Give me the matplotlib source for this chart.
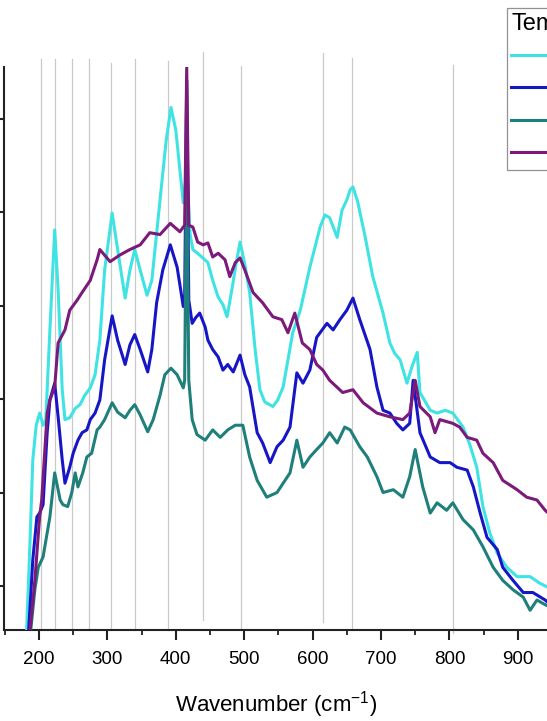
import matplotlib
matplotlib.use("Agg")
import matplotlib.pyplot as plt
from matplotlib.ticker import MultipleLocator


# -----------------------------
# Datos
# -----------------------------

wn_cyan = [182, 187, 191, 196, 201, 206, 210, 216, 223, 228, 234, 238, 245, 253, 260, 267,
           275, 282, 289, 296, 307, 315, 326, 333, 340, 348, 358, 365, 377, 386, 393, 400,
           411, 416, 421, 425, 435, 447, 454, 462, 469, 475, 482, 488, 494, 501, 508, 516,
           523, 530, 542, 549, 557, 564, 571, 582, 596, 611, 618, 625, 636, 643, 650, 655,
           659, 666, 677, 688, 703, 713, 720, 728, 738, 745, 753, 757, 772, 782, 794, 805,
           820, 830, 840, 849, 859, 870, 884, 899, 918, 932, 943]
int_cyan = [530, 1490, 2350, 2720, 2850, 2720, 2780, 3740, 4810, 4170, 3100, 2780, 2800, 2900, 2940, 3040,
            3120, 3260, 3630, 4380, 4990, 4600, 4080, 4380, 4600, 4380, 4110, 4270, 5130, 5770, 6120, 5880,
            5100, 5450, 4760, 4600, 4540, 4460, 4270, 4090, 4010, 3880, 4170, 4440, 4680, 4440, 4140, 3530,
            3100, 2970, 2920, 2990, 3130, 3420, 3710, 3950, 4410, 4840, 4970, 4940, 4730, 5020, 5130, 5240,
            5270, 5110, 4730, 4310, 3920, 3600, 3490, 3420, 3170, 3340, 3500, 3070, 2880, 2850, 2880, 2850,
            2700, 2510, 2270, 1850, 1570, 1350, 1200, 1100, 1100, 1030, 990]

wn_blue = [185, 191, 197, 201, 206, 212, 216, 223, 228, 234, 238, 245, 250, 257, 263, 270,
           275, 282, 289, 296, 307, 315, 326, 333, 340, 348, 359, 365, 372, 381, 392, 402,
           411, 413, 416, 419, 424, 429, 435, 443, 447, 454, 462, 469, 476, 484, 494, 501,
           508, 519, 527, 538, 548, 557, 567, 577, 586, 596, 606, 621, 630, 640, 650, 659,
           669, 684, 694, 703, 713, 723, 732, 742, 747, 757, 772, 786, 801, 811, 826, 835,
           845, 855, 870, 878, 893, 908, 922, 940, 943]
int_blue = [530, 1280, 1740, 1780, 1870, 2640, 2990, 3170, 2810, 2350, 2100, 2270, 2420, 2560, 2640, 2670,
            2780, 2850, 2990, 3420, 3890, 3630, 3370, 3580, 3690, 3530, 3290, 3530, 4030, 4380, 4650, 4410,
            3990, 4060, 6410, 4060, 3810, 3870, 3920, 3770, 3630, 3530, 3450, 3310, 3370, 3290, 3470, 3260,
            3130, 2640, 2530, 2320, 2490, 2560, 2700, 3280, 3170, 3310, 3660, 3810, 3740, 3850, 3950, 4080,
            3850, 3530, 3130, 2880, 2850, 2740, 2670, 2740, 3200, 2640, 2380, 2320, 2320, 2270, 2240, 2060,
            1780, 1520, 1390, 1200, 1060, 930, 930, 850, 830]

wn_teal = [188, 194, 199, 206, 216, 223, 231, 235, 242, 248, 253, 257, 264, 270, 277, 285,
           289, 296, 307, 315, 326, 333, 340, 348, 359, 367, 377, 384, 393, 402, 411, 413,
           416, 419, 424, 431, 443, 454, 465, 476, 487, 498, 508, 519, 533, 548, 557, 567,
           577, 586, 596, 606, 615, 625, 636, 647, 655, 669, 680, 694, 703, 718, 732, 742,
           750, 761, 772, 782, 796, 805, 820, 835, 849, 864, 878, 893, 908, 918, 928, 940,
           943]
int_teal = [530, 960, 1200, 1310, 1740, 2210, 1920, 1870, 1850, 2000, 2210, 2060, 2210, 2380, 2420, 2670,
            2700, 2780, 2960, 2860, 2800, 2880, 2940, 2830, 2650, 2780, 3040, 3260, 3330, 3260, 3120, 3200,
            5700, 3200, 2780, 2620, 2560, 2670, 2590, 2670, 2720, 2720, 2380, 2130, 1950, 2000, 2100, 2210,
            2560, 2270, 2380, 2460, 2530, 2640, 2530, 2700, 2670, 2490, 2380, 2170, 2000, 2030, 1950, 2170,
            2460, 2060, 1780, 1890, 1810, 1890, 1710, 1600, 1420, 1200, 1060, 960, 880, 740, 850, 800,
            790]

wn_purple = [187, 194, 201, 204, 212, 216, 223, 228, 238, 245, 256, 263, 275, 285, 289, 304,
             318, 333, 348, 362, 377, 392, 406, 413, 416, 419, 425, 432, 440, 447, 454, 462,
             472, 479, 487, 494, 501, 513, 527, 542, 555, 564, 574, 585, 596, 606, 615, 625,
             644, 659, 674, 694, 713, 732, 742, 750, 757, 772, 779, 786, 805, 815, 826, 840,
             849, 864, 878, 899, 913, 928, 940, 943]
int_purple = [530, 1060, 1740, 1920, 2850, 2990, 3130, 3600, 3740, 3950, 4060, 4140, 4270, 4490, 4600, 4470,
              4540, 4600, 4650, 4780, 4760, 4880, 4790, 4860, 6550, 4860, 4840, 4680, 4650, 4670, 4520, 4560,
              4490, 4310, 4460, 4510, 4380, 4140, 4030, 3880, 3850, 3710, 3920, 3600, 3530, 3370, 3310, 3200,
              3070, 3100, 2960, 2850, 2810, 2780, 2850, 3200, 2920, 2810, 2640, 2780, 2740, 2700, 2590, 2560,
              2420, 2320, 2130, 2030, 1950, 1920, 1810, 1790]

series = [
    (wn_cyan, int_cyan, "#3fe3e3", "25 °C"),
    (wn_blue, int_blue, "#1616c6", "100 °C"),
    (wn_teal, int_teal, "#1f7f7a", "200 °C"),
    (wn_purple, int_purple, "#7b1a7b", "300 °C"),
]

# lineas de referencia (posiciones de bandas)
ref_bands = [203, 223, 249, 273, 306, 341, 389, 440, 496, 615, 658, 805]
ref_top = [6640, 6640, 6640, 6640, 6600, 6640, 6620, 6710, 6560, 6700, 6650, 6570]
ref_bottom = [529, 529, 529, 529, 529, 529, 529, 640, 529, 615, 529, 500]


# -----------------------------
# Figura
# -----------------------------

plt.rcParams["font.family"] = ["Liberation Sans", "DejaVu Sans"]
plt.rcParams["mathtext.fontset"] = "custom"
plt.rcParams["mathtext.rm"] = "Liberation Sans"
plt.rcParams["mathtext.default"] = "regular"

fig = plt.figure(figsize=(5.47, 7.21), dpi=100)
ax = fig.add_axes([0.0082, 0.1262, 0.9918, 0.7809])

for xb, yt, yb in zip(ref_bands, ref_top, ref_bottom):
    ax.plot([xb, xb], [yb, yt], color="#c9c9c9", lw=0.9, zorder=1, clip_on=False)

for wn, inten, col, lab in series:
    ax.plot(wn, inten, color=col, lw=2.2, label=lab, zorder=3)

ax.set_xlim(149.6, 942.7)
ax.set_ylim(529, 6553)

ax.xaxis.set_major_locator(MultipleLocator(100))
ax.xaxis.set_minor_locator(MultipleLocator(50))
ax.yaxis.set_major_locator(MultipleLocator(1000))

ax.spines["top"].set_visible(False)
ax.spines["right"].set_visible(False)
for s in ["left", "bottom"]:
    ax.spines[s].set_linewidth(1.5)
    ax.spines[s].set_color("#222222")

ax.tick_params(axis="both", which="major", direction="out", length=7, width=1.5,
               color="#222222", labelsize=13.5, pad=8)
ax.tick_params(axis="x", which="minor", direction="out", length=3.8, width=1.3, color="#222222")
ax.tick_params(axis="y", labelleft=False)

ax.set_xlabel("Wavenumber (cm$^{-1}$)", fontsize=16, labelpad=15)

leg = fig.legend(loc="upper left", bbox_to_anchor=(506.5 / 547, 1 - 8 / 721),
                 title="Temperature", fontsize=16, title_fontsize=17,
                 frameon=True, fancybox=False, borderaxespad=0, borderpad=0.22,
                 handlelength=2.0, handletextpad=0.5, labelspacing=0.52,
                 alignment="left")
leg.get_frame().set_edgecolor("#777777")
leg.get_frame().set_linewidth(0.9)
for h in leg.get_lines():
    h.set_linewidth(2.2)

fig.savefig("out.png", dpi=100)
